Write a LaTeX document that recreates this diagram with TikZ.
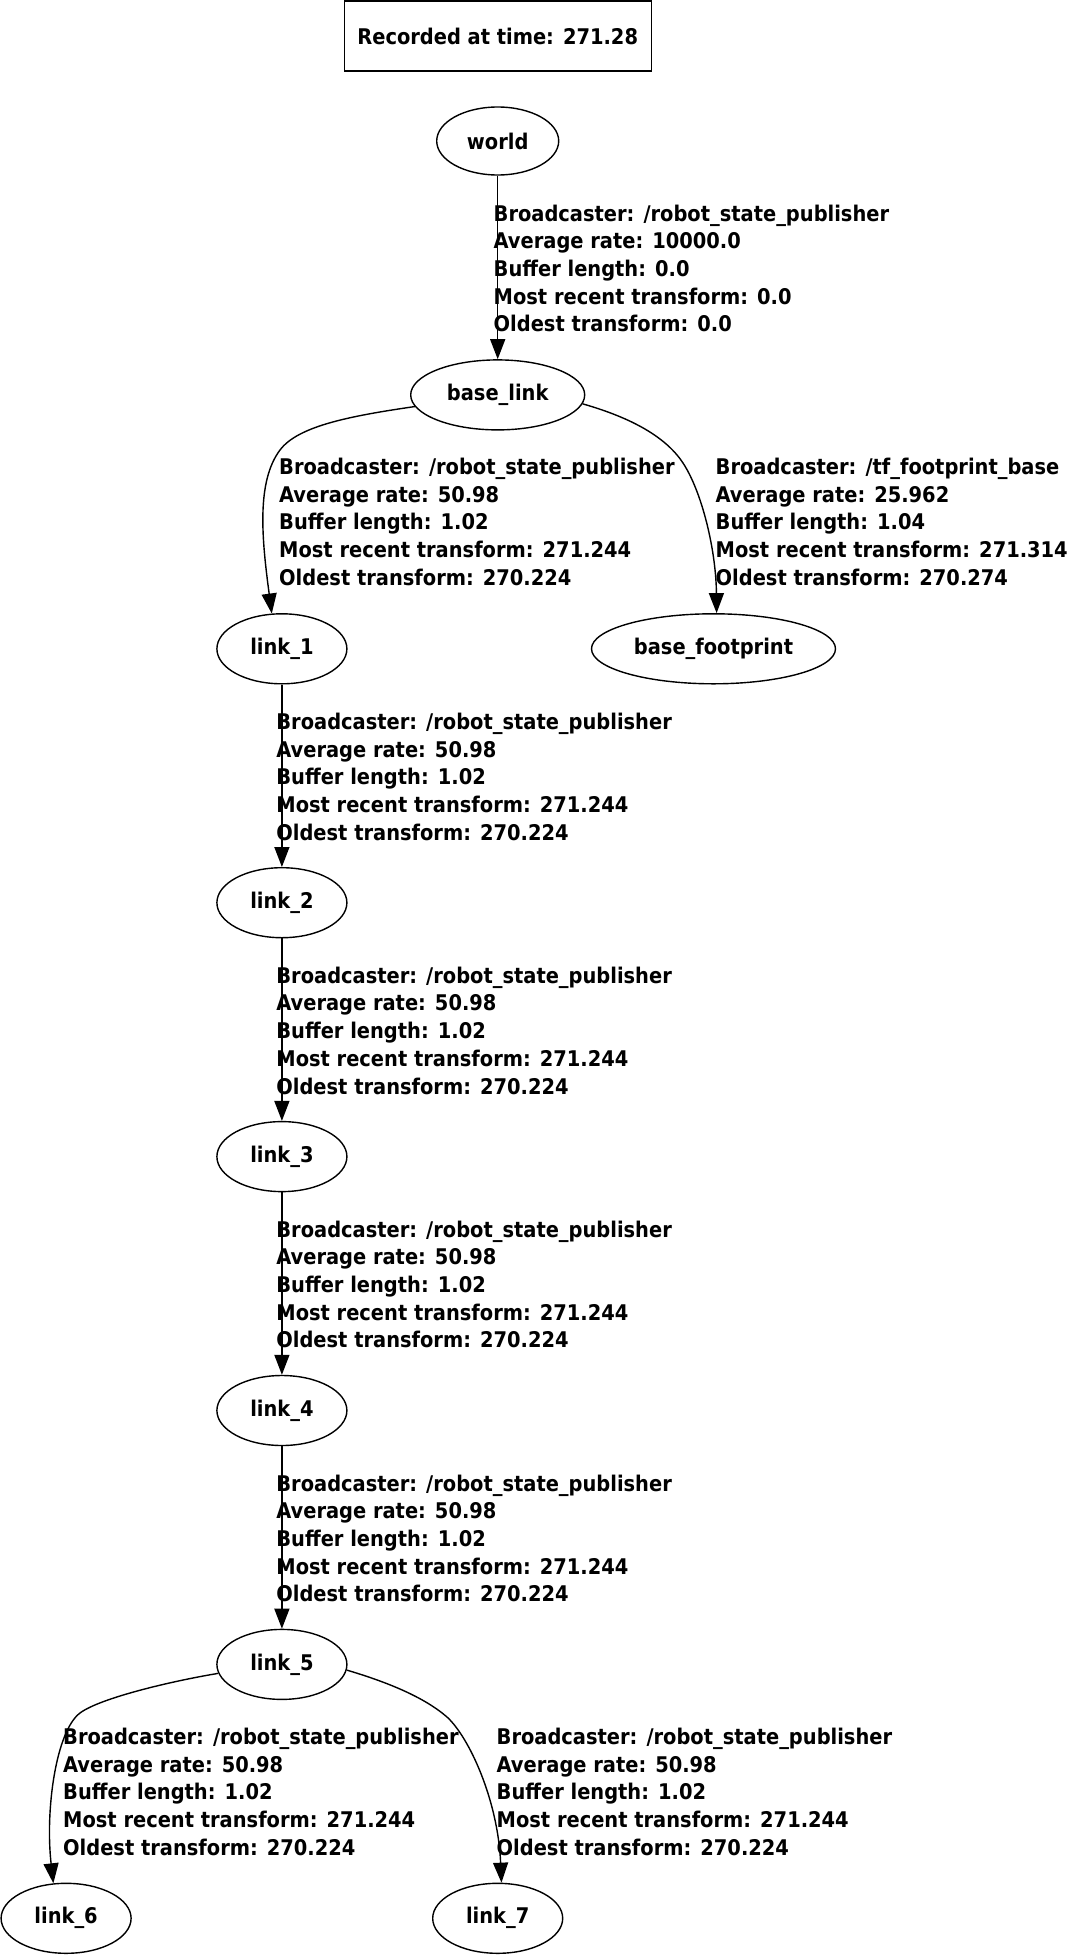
\documentclass[tikz,border=0pt]{standalone}
\usepackage{fontspec}
\newfontfamily\tffont{DejaVu Sans Condensed Bold}
\usepackage{tikz}
\usetikzlibrary{shapes}
\usetikzlibrary{arrows.meta}
\newcommand{\tfsize}{\tffont\fontsize{21.6}{27.7}\selectfont}
\newcommand{\tfinfo}[5]{\begin{tabular}[t]{@{}l@{}}Broadcaster: #1\\Average rate: #2\\Buffer length: #3\\Most recent transform: #4\\Oldest transform: #5\end{tabular}}
\tikzstyle{frame}=[draw, line width=1.4pt, ellipse, inner sep=0pt, minimum width=130pt, minimum height=70pt, font=\tfsize]
\tikzstyle{info}=[anchor=base west, inner sep=0pt, font=\tfsize]
\tikzstyle{tfedge}=[line width=1.4pt, -{Triangle[length=20pt,width=15pt]}]

\begin{document}
\begin{tikzpicture}[x=1pt,y=-1pt]
\useasboundingbox (0,0) rectangle (1069,1956);
\node[draw, line width=1.4pt, minimum width=307pt, minimum height=70pt, font=\tfsize] (stamp) at (497.7,36.2) {Recorded at time: 271.28};
\node[frame, minimum width=122pt, minimum height=68pt] (world) at (497.7,141) {world};
\node[frame, minimum width=174pt] (base_link) at (497.7,394.9) {base\_link};
\node[frame, minimum width=244pt] (base_footprint) at (713.5,648.8) {base\_footprint};
\foreach \i in {1,...,5} {
	\node[frame] (link_\i) at (281.9,{394.9+253.9*\i}) {link\_\i};
}
\node[frame] (link_6) at (66.1,1918.3) {link\_6};
\node[frame] (link_7) at (497.7,1918.3) {link\_7};

\draw[tfedge] (world) -- (base_link);
\node[info] (info_world) at (493.5,221) {\tfinfo{/robot\_state\_publisher}{10000.0}{0.0}{0.0}{0.0}};

\draw[tfedge] (base_link.188) .. controls (350,416) and (298,426) .. (280,450) .. controls (256,482) and (262,540) .. (link_1.106);
\node[info] (info_base) at (279,474.5) {\tfinfo{/robot\_state\_publisher}{50.98}{1.02}{271.244}{270.224}};
\draw[tfedge] (base_link.354) .. controls (625,416) and (664,434) .. (683,463) .. controls (702,492) and (716,550) .. (base_footprint.85);
\node[info] (info_footprint) at (715.5,474.5) {\tfinfo{/tf\_footprint\_base}{25.962}{1.04}{271.314}{270.274}};

\foreach \i/\j in {1/2,2/3,3/4,4/5} {
	\draw[tfedge] (link_\i) -- (link_\j);
	\node[info, xshift=-5.7pt, yshift=-80.5pt] (info_\i) at (link_\i) {\tfinfo{/robot\_state\_publisher}{50.98}{1.02}{271.244}{270.224}};
}

\draw[tfedge] (link_5.188) .. controls (172,1681) and (100,1698) .. (80,1713) .. controls (56,1731) and (45,1810) .. (link_6.110);
\node[info] (info_6) at (63,1744.4) {\tfinfo{/robot\_state\_publisher}{50.98}{1.02}{271.244}{270.224}};
\draw[tfedge] (link_5.355) .. controls (387,1682) and (424,1697) .. (447,1717) .. controls (469,1737) and (498,1800) .. (link_7.84);
\node[info] (info_7) at (496.5,1744.4) {\tfinfo{/robot\_state\_publisher}{50.98}{1.02}{271.244}{270.224}};
\end{tikzpicture}
\end{document}
